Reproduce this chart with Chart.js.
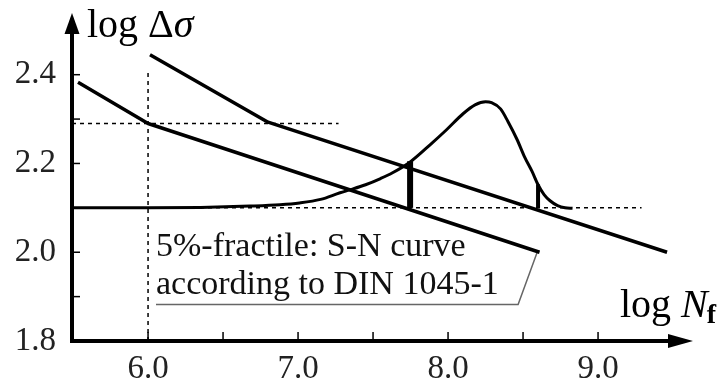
<!DOCTYPE html>
<html><head><meta charset="utf-8">
<script src="https://cdn.jsdelivr.net/npm/chart.js@4"></script>
<style>html,body{margin:0;padding:0;background:#fff;}#c{display:block;}</style>
</head><body>
<canvas id="c" width="725" height="383"></canvas>
<script>
// ---- data ----
const xLabelTicks = [6.0, 7.0, 8.0, 9.0];
const xTickMarks = [6.0, 6.5, 7.0, 7.5, 8.0, 8.5, 9.0];
const yLabelTicks = [1.8, 2.0, 2.2, 2.4];
const yTickMarks = [1.9, 2.0, 2.1, 2.2, 2.3, 2.4];

const meanLogN = [6.013, 6.8, 9.46];
const meanLogS = [2.445, 2.293, 2.0];
const fractileLogN = [5.533, 6.0, 8.61];
const fractileLogS = [2.383, 2.29, 2.0];

const densityLogN = [5.50, 6.00, 6.35, 6.68, 6.88, 7.01, 7.15, 7.28, 7.35, 7.45, 7.55, 7.63, 7.75, 7.88, 7.99, 8.10, 8.18, 8.25, 8.29, 8.35, 8.40, 8.46, 8.51, 8.56, 8.60, 8.64, 8.68, 8.73, 8.78, 8.83];
const densityLogS = [2.100, 2.100, 2.101, 2.104, 2.107, 2.111, 2.119, 2.134, 2.141, 2.152, 2.166, 2.179, 2.204, 2.242, 2.276, 2.312, 2.332, 2.339, 2.337, 2.323, 2.294, 2.254, 2.215, 2.182, 2.152, 2.130, 2.116, 2.105, 2.100, 2.099];

const barLogN = [7.747, 8.6];
const barTopLogS = [2.205, 2.153];
const barBaseLogS = 2.1;

const guideVLogN = 6.0;       const guideVTop = 2.41;
const guideH1LogS = 2.29;     const guideH1End = 7.27;
const guideH2LogS = 2.1;      const guideH2End = 9.29;

const leaderLogN = [6.053, 8.467, 8.593];
const leaderLogS = [1.882, 1.882, 1.999];
const noteLines = ["5%-fractile: S-N curve", "according to DIN 1045-1"];
const noteLogN = 6.053;
const noteLogS = [1.992, 1.905];

const xMin = 5.493, xMax = 9.633, yMin = 1.8, yMax = 2.539;

// ---- helpers ----
const pts = (xs, ys) => xs.map((v, i) => ({x: v, y: ys[i]}));
const line = (data, extra) => Object.assign({
  data, showLine: true, borderColor: '#000', borderWidth: 3.5, pointRadius: 0,
  fill: false, borderCapStyle: 'butt', borderJoinStyle: 'round', clip: false, tension: 0
}, extra || {});

const datasets = [
  line([{x: guideVLogN, y: yMin}, {x: guideVLogN, y: guideVTop}], {borderWidth: 1.5, borderDash: [4, 4]}),
  line([{x: xMin, y: guideH1LogS}, {x: guideH1End, y: guideH1LogS}], {borderWidth: 1.5, borderDash: [4, 4]}),
  line([{x: xMin, y: guideH2LogS}, {x: guideH2End, y: guideH2LogS}], {borderWidth: 1.5, borderDash: [4, 4]}),
  line(pts(fractileLogN, fractileLogS)),
  line(pts(meanLogN, meanLogS)),
  line(pts(densityLogN, densityLogS), {cubicInterpolationMode: 'monotone', borderWidth: 3}),
  line([{x: barLogN[0], y: barBaseLogS}, {x: barLogN[0], y: barTopLogS[0]}], {borderWidth: 6}),
  line([{x: barLogN[1], y: barBaseLogS}, {x: barLogN[1], y: barTopLogS[1]}], {borderWidth: 4}),
  line(pts(leaderLogN, leaderLogS), {borderWidth: 1.5, borderColor: '#666', borderJoinStyle: 'miter'})
];

const SERIF = '"Liberation Serif", "DejaVu Serif", serif';

const decor = {
  id: 'decor',
  beforeDatasetsDraw(chart) {
    const {ctx, chartArea: a, scales: {x, y}} = chart;
    ctx.save();
    ctx.strokeStyle = '#000'; ctx.fillStyle = '#000';
    ctx.lineWidth = 1.5;
    xTickMarks.forEach(v => { const p = x.getPixelForValue(v); ctx.beginPath(); ctx.moveTo(p, a.bottom); ctx.lineTo(p, a.bottom - 9); ctx.stroke(); });
    yTickMarks.forEach(v => { const p = y.getPixelForValue(v); ctx.beginPath(); ctx.moveTo(a.left, p); ctx.lineTo(a.left + 8, p); ctx.stroke(); });
    ctx.restore();
  },
  afterDatasetsDraw(chart) {
    const {ctx, chartArea: a, scales: {x, y}} = chart;
    ctx.save();
    ctx.strokeStyle = '#000'; ctx.fillStyle = '#000';
    ctx.lineWidth = 4; ctx.lineCap = 'butt';
    ctx.beginPath(); ctx.moveTo(a.left, a.bottom + 2); ctx.lineTo(a.left, a.top + 18); ctx.stroke();
    ctx.beginPath(); ctx.moveTo(a.left - 2, a.bottom); ctx.lineTo(a.right - 22, a.bottom); ctx.stroke();
    ctx.beginPath(); ctx.moveTo(a.left, a.top); ctx.lineTo(a.left - 7.5, a.top + 21); ctx.lineTo(a.left + 7.5, a.top + 21); ctx.closePath(); ctx.fill();
    ctx.beginPath(); ctx.moveTo(a.right, a.bottom); ctx.lineTo(a.right - 25, a.bottom - 7); ctx.lineTo(a.right - 25, a.bottom + 7); ctx.closePath(); ctx.fill();

    ctx.textBaseline = 'alphabetic'; ctx.textAlign = 'left';
    // y title: log Δσ
    let tx = a.left + 15, ty = a.top + 24;
    ctx.font = '40px ' + SERIF; ctx.fillText('log Δ', tx, ty);
    tx += ctx.measureText('log Δ').width;
    ctx.font = 'italic 40px ' + SERIF; ctx.fillText('σ', tx, ty);
    // x title: log N_f
    tx = a.right - 73; ty = a.bottom - 24;
    ctx.font = '40px ' + SERIF; ctx.fillText('log ', tx, ty);
    tx += ctx.measureText('log ').width;
    ctx.font = 'italic 40px ' + SERIF; ctx.fillText('N', tx, ty);
    tx += ctx.measureText('N').width - 1;
    ctx.font = 'bold 28px ' + SERIF; ctx.fillText('f', tx, ty + 6);

    // annotation
    ctx.font = '34px ' + SERIF; ctx.fillStyle = '#111';
    noteLines.forEach((t, i) => ctx.fillText(t, x.getPixelForValue(noteLogN), y.getPixelForValue(noteLogS[i])));
    ctx.restore();
  }
};

new Chart(document.getElementById('c'), {
  type: 'scatter',
  data: {datasets},
  options: {
    responsive: false, animation: false, devicePixelRatio: 1,
    layout: {padding: {top: 13, right: 32, left: 0, bottom: 0}},
    plugins: {legend: {display: false}, tooltip: {enabled: false}},
    scales: {
      x: {
        type: 'linear', min: xMin, max: xMax,
        grid: {display: false, drawTicks: false}, border: {display: false},
        afterBuildTicks: s => { s.ticks = xLabelTicks.map(v => ({value: v})); },
        afterFit: s => { s.height = 42; s.paddingLeft = 0; s.paddingRight = 0; },
        ticks: {padding: 9, color: '#222', font: {family: SERIF, size: 33}, maxRotation: 0, autoSkip: false,
                callback: v => Number(v).toFixed(1)}
      },
      y: {
        type: 'linear', min: yMin, max: yMax,
        grid: {display: false, drawTicks: false}, border: {display: false},
        afterBuildTicks: s => { s.ticks = yLabelTicks.map(v => ({value: v})); },
        afterFit: s => { s.width = 72; s.paddingTop = 0; s.paddingBottom = 0; },
        ticks: {padding: 16, color: '#222', font: {family: SERIF, size: 33},
                callback: v => Number(v).toFixed(1)}
      }
    }
  },
  plugins: [decor]
});
</script>
</body></html>
